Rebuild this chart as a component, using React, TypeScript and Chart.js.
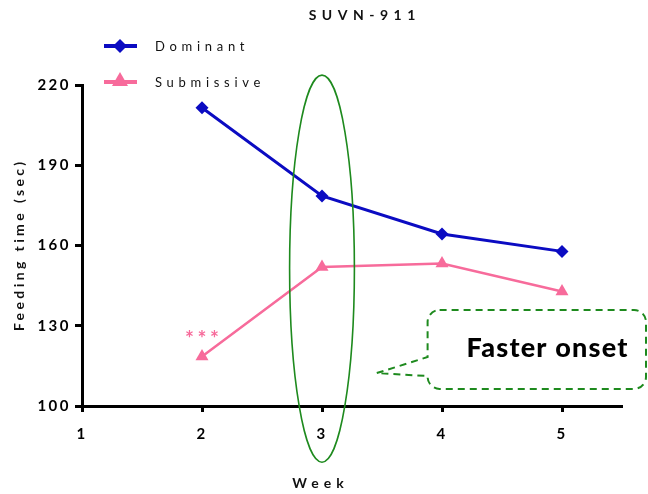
import React, { useEffect, useRef } from 'react';
import { Chart, registerables } from 'chart.js';

Chart.register(...registerables);

// ---- data ----
const weeks = [2, 3, 4, 5];
const dominant = [211.5, 178.5, 164.3, 157.8];
const submissive = [118.5, 152, 153.3, 142.8];
const xTickValues = [1, 2, 3, 4, 5];
const yTickValues = [100, 130, 160, 190, 220];
const seriesNames = ['Dominant', 'Submissive'];
const chartTitle = 'SUVN-911';
const xTitle = 'Week';
const yTitle = 'Feeding time (sec)';
const calloutText = 'Faster onset';
const significance = '***';

// ---- styles ----
const BLUE = '#0b0bc2';
const PINK = '#f76b9b';
const GREEN = '#1e8a1e';
const FONT = 'Lato, "Open Sans", sans-serif';

function spacedText(ctx: CanvasRenderingContext2D, text: string, x: number, y: number, spacing: number, align: CanvasTextAlign) {
  ctx.letterSpacing = spacing + 'px';
  ctx.textAlign = align;
  let dx = 0;
  if (align === 'center') dx = spacing / 2;
  else if (align === 'right') dx = spacing;
  ctx.fillText(text, x + dx, y);
}

function drawMarker(ctx: CanvasRenderingContext2D, kind: string, cx: number, cy: number, r: number, color: string) {
  ctx.fillStyle = color;
  ctx.beginPath();
  if (kind === 'diamond') {
    ctx.moveTo(cx, cy - r);
    ctx.lineTo(cx + r, cy);
    ctx.lineTo(cx, cy + r);
    ctx.lineTo(cx - r, cy);
  } else {
    ctx.moveTo(cx, cy - r);
    ctx.lineTo(cx + r, cy + r * 0.75);
    ctx.lineTo(cx - r, cy + r * 0.75);
  }
  ctx.closePath();
  ctx.fill();
}

const decorPlugin = {
  id: 'decor',
  beforeDraw(chart: any) {
    chart.ctx.letterSpacing = '2.5px';
  },
  afterDraw(chart: any) {
    const ctx: CanvasRenderingContext2D = chart.ctx;
    const xs = chart.scales.x;
    const ys = chart.scales.y;
    ctx.save();
    ctx.fillStyle = '#111';
    ctx.textBaseline = 'middle';

    // title
    ctx.font = `bold 14px ${FONT}`;
    spacedText(ctx, chartTitle, 362, 15, 5.5, 'center');

    // axis titles
    ctx.font = `bold 14px ${FONT}`;
    spacedText(ctx, xTitle, 318, 483, 5, 'center');
    ctx.save();
    ctx.translate(19, (ys.top + ys.bottom) / 2 + 1);
    ctx.rotate(-Math.PI / 2);
    spacedText(ctx, yTitle, 0, 0, 3.4, 'center');
    ctx.restore();

    // legend
    const legendY = [46, 82];
    const colors = [BLUE, PINK];
    const kinds = ['diamond', 'triangle'];
    seriesNames.forEach((name, i) => {
      ctx.strokeStyle = colors[i];
      ctx.lineWidth = 4;
      ctx.beginPath();
      ctx.moveTo(104, legendY[i]);
      ctx.lineTo(137, legendY[i]);
      ctx.stroke();
      drawMarker(ctx, kinds[i], 120, legendY[i] - (i === 1 ? 2 : 0), i === 1 ? 8 : 7, colors[i]);
      ctx.fillStyle = '#111';
      ctx.font = `13px ${FONT}`;
      spacedText(ctx, name, 155, legendY[i] + 1, 4.7, 'left');
    });

    // significance stars
    ctx.fillStyle = PINK;
    ctx.font = `bold 21px ${FONT}`;
    spacedText(ctx, significance, xs.getPixelForValue(weeks[0]), ys.getPixelForValue(submissive[0]) - 17, 3.5, 'center');

    // ellipse around week 3
    const ecx = xs.getPixelForValue(3);
    const eTop = ys.getPixelForValue(223.7);
    const eBot = ys.getPixelForValue(79);
    const erx = xs.getPixelForValue(3.27) - ecx;
    ctx.strokeStyle = GREEN;
    ctx.lineWidth = 1.6;
    ctx.beginPath();
    ctx.ellipse(ecx, (eTop + eBot) / 2, erx, (eBot - eTop) / 2, 0, 0, Math.PI * 2);
    ctx.stroke();

    // callout box
    const L = xs.getPixelForValue(3.88);
    const R = 646;
    const T = ys.getPixelForValue(135.9);
    const B = ys.getPixelForValue(106.4);
    const tipX = xs.getPixelForValue(3.455);
    const tipY = ys.getPixelForValue(112.3);
    const pTop = ys.getPixelForValue(118.3);
    const pBot = ys.getPixelForValue(111.2);
    const r = 12;
    ctx.setLineDash([7, 5]);
    ctx.lineWidth = 2;
    ctx.beginPath();
    ctx.moveTo(L + r, T);
    ctx.lineTo(R - r, T);
    ctx.arcTo(R, T, R, T + r, r);
    ctx.lineTo(R, B - r);
    ctx.arcTo(R, B, R - r, B, r);
    ctx.lineTo(L + r, B);
    ctx.arcTo(L, B, L, B - r, r);
    ctx.lineTo(L, pBot);
    ctx.lineTo(tipX, tipY);
    ctx.lineTo(L, pTop);
    ctx.lineTo(L, T + r);
    ctx.arcTo(L, T, L + r, T, r);
    ctx.stroke();
    ctx.setLineDash([]);

    ctx.fillStyle = '#000';
    ctx.font = `900 27px ${FONT}`;
    spacedText(ctx, calloutText, 547, (T + B) / 2 - 1, 1.2, 'center');

    ctx.restore();
  },
};

export default function App() {
  const ref = useRef<HTMLCanvasElement>(null);
  useEffect(() => {
    if (!ref.current) return;
    const tickFont = { family: FONT, size: 15, weight: 'bold' as const };
    const chart = new Chart(ref.current, {
      type: 'line',
      data: {
        datasets: [
          {
            label: seriesNames[0],
            data: weeks.map((w, i) => ({ x: w, y: dominant[i] })),
            borderColor: BLUE,
            backgroundColor: BLUE,
            borderWidth: 3,
            pointStyle: 'rectRot',
            pointRadius: 6.5,
            pointBorderWidth: 0,
            tension: 0,
          },
          {
            label: seriesNames[1],
            data: weeks.map((w, i) => ({ x: w, y: submissive[i] })),
            borderColor: PINK,
            backgroundColor: PINK,
            borderWidth: 2.5,
            pointStyle: 'triangle',
            pointRadius: 7.5,
            pointBorderWidth: 0,
            tension: 0,
          },
        ],
      },
      options: {
        responsive: false,
        animation: false,
        events: [],
        layout: { padding: { left: 0, right: 26, top: 85, bottom: 0 } },
        plugins: { legend: { display: false }, title: { display: false }, tooltip: { enabled: false } },
        scales: {
          x: {
            type: 'linear',
            min: 1,
            max: 5.5,
            afterBuildTicks: (s: any) => { s.ticks = xTickValues.map((v) => ({ value: v })); },
            afterFit: (s: any) => { s.height = 88; },
            border: { display: true, color: '#000', width: 3 },
            grid: { display: true, drawOnChartArea: false, drawTicks: true, tickLength: 6, tickWidth: 3, tickColor: '#000' },
            ticks: { color: '#000', font: tickFont, padding: 13, maxRotation: 0 },
          },
          y: {
            type: 'linear',
            min: 100,
            max: 220,
            afterBuildTicks: (s: any) => { s.ticks = yTickValues.map((v) => ({ value: v })); },
            afterFit: (s: any) => { s.width = 82; },
            border: { display: true, color: '#000', width: 3 },
            grid: { display: true, drawOnChartArea: false, drawTicks: true, tickLength: 7, tickWidth: 3, tickColor: '#000' },
            ticks: { color: '#000', font: tickFont, padding: 4 },
          },
        },
      },
      plugins: [decorPlugin],
    });
    return () => chart.destroy();
  }, []);
  return (
    <div style={{ position: 'absolute', left: 0, top: 0, width: 648, height: 494, background: '#fff' }}>
      <canvas ref={ref} width={648} height={494} style={{ display: 'block' }} />
    </div>
  );
}
